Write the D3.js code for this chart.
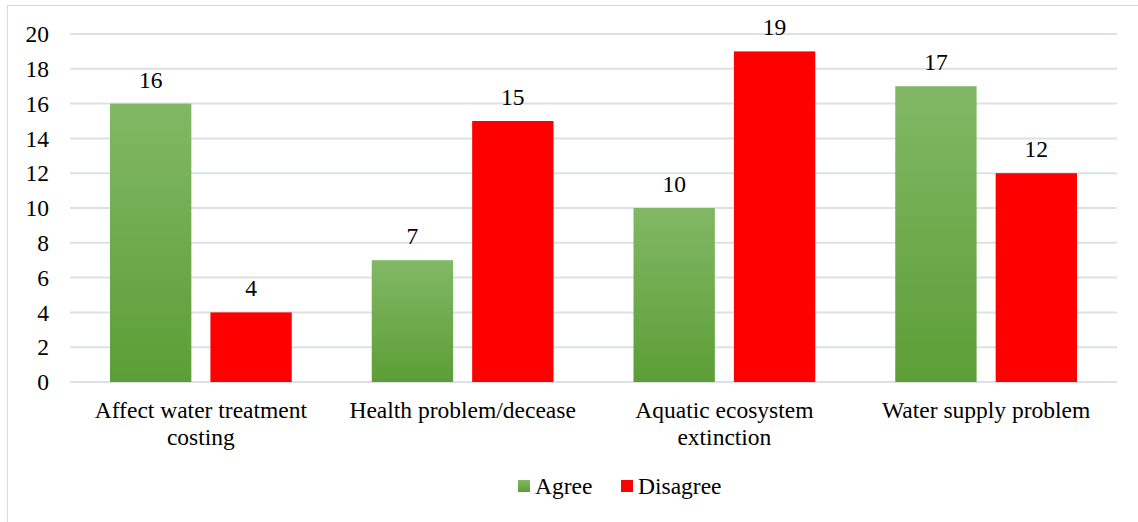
<!DOCTYPE html>
<html>
<head>
<meta charset="utf-8">
<script src="https://cdn.jsdelivr.net/npm/d3@7"></script>
<style>
  html, body { margin: 0; padding: 0; background: #fff; }
  svg { display: block; }
  svg text { font-family: "Liberation Serif", "Times New Roman", Times, serif; }
</style>
</head>
<body>
<svg id="chart" width="1138" height="522"></svg>
<script>
const categories = [
  ["Affect water treatment", "costing"],
  ["Health problem/decease"],
  ["Aquatic ecosystem", "extinction"],
  ["Water supply problem"]
];
const seriesNames = ["Agree", "Disagree"];
const agree = [16, 7, 10, 17];
const disagree = [4, 15, 19, 12];
const yTicks = [0, 2, 4, 6, 8, 10, 12, 14, 16, 18, 20];

const svg = d3.select("#chart");
const W = 1138, H = 522;
const plot = { left: 70, right: 1117, top: 34, bottom: 382 };
const FS = 23.5;
const FONT = "Liberation Serif";

// gradient fill for the green series
const defs = svg.append("defs");
const grad = defs.append("linearGradient").attr("id", "greenGrad")
  .attr("x1", 0).attr("y1", 0).attr("x2", 0).attr("y2", 1);
grad.append("stop").attr("offset", "0%").attr("stop-color", "#82b865");
grad.append("stop").attr("offset", "100%").attr("stop-color", "#5c9e36");
const colors = ["url(#greenGrad)", "#ff0000"];

// outer chart frame
svg.append("rect").attr("x", 7.5).attr("y", 5.5).attr("width", W).attr("height", H)
  .attr("fill", "none").attr("stroke", "#d9d9d9").attr("stroke-width", 1);

const x0 = d3.scaleBand().domain(d3.range(categories.length))
  .range([plot.left, plot.right]).paddingInner(0).paddingOuter(0);
const x1 = d3.scaleBand().domain(seriesNames).range([40, x0.bandwidth() - 40]).paddingInner(0.19);
const y = d3.scaleLinear().domain([0, 20]).range([plot.bottom, plot.top]);

// gridlines
svg.append("g").selectAll("line").data(yTicks).join("line")
  .attr("x1", plot.left).attr("x2", plot.right)
  .attr("y1", d => y(d)).attr("y2", d => y(d))
  .attr("stroke", "#dde1e6").attr("stroke-width", 2);

// y tick labels
svg.append("g").selectAll("text").data(yTicks).join("text")
  .attr("x", 49).attr("y", d => y(d)).attr("dy", "0.35em")
  .attr("text-anchor", "end").attr("font-family", FONT).attr("font-size", FS).attr("fill", "#000")
  .text(d => d);

const rows = categories.map((c, i) => ({ i, values: [agree[i], disagree[i]] }));
const groups = svg.append("g").selectAll("g").data(rows).join("g")
  .attr("transform", d => `translate(${x0(d.i)},0)`);

groups.selectAll("rect").data(d => d.values.map((v, k) => ({ k, v }))).join("rect")
  .attr("x", d => x1(seriesNames[d.k]))
  .attr("width", x1.bandwidth())
  .attr("y", d => y(d.v))
  .attr("height", d => y(0) - y(d.v))
  .attr("fill", d => colors[d.k]);

groups.selectAll("text.val").data(d => d.values.map((v, k) => ({ k, v }))).join("text")
  .attr("class", "val")
  .attr("x", d => x1(seriesNames[d.k]) + x1.bandwidth() / 2)
  .attr("y", d => y(d.v) - 16)
  .attr("text-anchor", "middle").attr("font-family", FONT).attr("font-size", FS).attr("fill", "#000")
  .text(d => d.v);

// category labels
svg.append("g").selectAll("text").data(categories).join("text")
  .attr("text-anchor", "middle").attr("font-family", FONT).attr("font-size", FS).attr("fill", "#000")
  .attr("transform", (d, i) => `translate(${x0(i) + x0.bandwidth() / 2},418)`)
  .selectAll("tspan").data(d => d).join("tspan")
  .attr("x", 0).attr("dy", (d, j) => j === 0 ? 0 : 27)
  .text(d => d);

// legend
const legend = svg.append("g");
const legendItems = [{ name: "Agree", x: 518 }, { name: "Disagree", x: 621 }];
legendItems.forEach((it, k) => {
  legend.append("rect").attr("x", it.x).attr("y", 480).attr("width", 12).attr("height", 12)
    .attr("fill", colors[k]);
  legend.append("text").attr("x", it.x + 17).attr("y", 486).attr("dy", "0.35em")
    .attr("font-family", FONT).attr("font-size", FS).attr("fill", "#000").text(it.name);
});
</script>
</body>
</html>
